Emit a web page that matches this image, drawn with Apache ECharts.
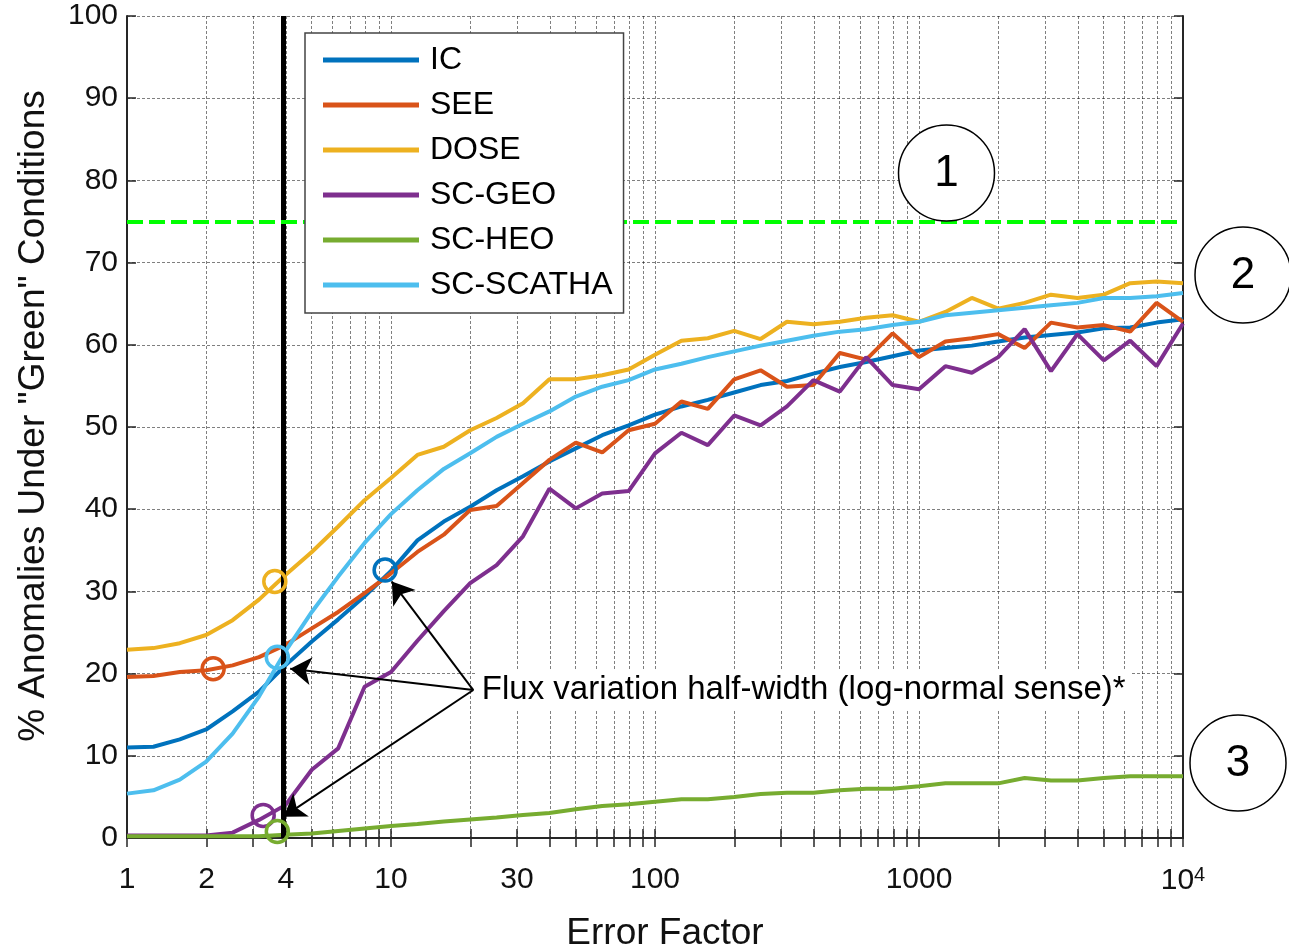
<!DOCTYPE html>
<html>
<head>
<meta charset="utf-8">
<title>Anomalies under green conditions vs error factor</title>
<script src="https://cdn.jsdelivr.net/npm/echarts@6/dist/echarts.min.js"></script>
<style>
  html, body { margin: 0; padding: 0; background: #fff; }
  #Echarts { width: 1289px; height: 947px; }
</style>
</head>
<body>
<div id="Echarts"></div>
<script>
// error factor samples, 10 per decade
var errorFactor = [1, 1.259, 1.585, 1.995, 2.512, 3.162, 3.981, 5.012, 6.31, 7.943,
  10, 12.59, 15.85, 19.95, 25.12, 31.62, 39.81, 50.12, 63.1, 79.43,
  100, 125.9, 158.5, 199.5, 251.2, 316.2, 398.1, 501.2, 631, 794.3,
  1000, 1259, 1585, 1995, 2512, 3162, 3981, 5012, 6310, 7943, 10000];

var seriesNames = ['IC', 'SEE', 'DOSE', 'SC-GEO', 'SC-HEO', 'SC-SCATHA'];
var seriesColors = ['#0072BD', '#D95319', '#EDB120', '#7E2F8E', '#77AC30', '#4DBEEE'];

var icValues = [11.0, 11.1, 12.0, 13.2, 15.4, 17.8, 21.0, 23.9, 26.6, 29.4,
  32.5, 36.2, 38.5, 40.3, 42.3, 44.0, 45.8, 47.4, 49.0, 50.2,
  51.5, 52.5, 53.3, 54.2, 55.1, 55.6, 56.5, 57.3, 57.9, 58.6,
  59.3, 59.6, 59.9, 60.4, 60.9, 61.2, 61.5, 62.0, 62.1, 62.7, 63.1];
var seeValues = [19.6, 19.7, 20.2, 20.4, 21.0, 22.0, 23.5, 25.5, 27.5, 29.8,
  32.2, 34.8, 36.9, 39.9, 40.4, 43.2, 46.0, 48.1, 46.9, 49.6,
  50.4, 53.1, 52.2, 55.8, 56.9, 54.9, 55.1, 59.0, 58.2, 61.4,
  58.5, 60.4, 60.8, 61.3, 59.6, 62.7, 62.1, 62.4, 61.6, 65.1, 62.8];
var doseValues = [22.9, 23.1, 23.7, 24.7, 26.5, 29.0, 32.0, 34.8, 37.9, 41.1,
  43.8, 46.6, 47.6, 49.6, 51.1, 52.9, 55.8, 55.8, 56.3, 57.0,
  58.8, 60.5, 60.8, 61.7, 60.7, 62.8, 62.5, 62.8, 63.3, 63.6,
  62.8, 64.0, 65.7, 64.4, 65.1, 66.1, 65.7, 66.1, 67.5, 67.7, 67.5];
var geoValues = [0.3, 0.3, 0.3, 0.3, 0.65, 2.2, 4.0, 8.3, 10.9, 18.4,
  20.2, 24.0, 27.6, 31.0, 33.2, 36.7, 42.5, 40.1, 41.9, 42.2,
  46.8, 49.3, 47.8, 51.4, 50.2, 52.5, 55.7, 54.3, 58.5, 55.1,
  54.6, 57.4, 56.6, 58.5, 61.9, 56.8, 61.3, 58.1, 60.5, 57.4, 62.6];
var heoValues = [0.2, 0.2, 0.2, 0.2, 0.2, 0.2, 0.4, 0.55, 0.85, 1.15,
  1.45, 1.7, 2.0, 2.25, 2.5, 2.8, 3.05, 3.5, 3.9, 4.1,
  4.4, 4.7, 4.7, 5.0, 5.35, 5.5, 5.5, 5.8, 6.0, 6.0,
  6.3, 6.65, 6.65, 6.65, 7.3, 7.0, 7.0, 7.3, 7.5, 7.5, 7.5];
var scathaValues = [5.4, 5.8, 7.1, 9.3, 12.7, 17.2, 22.7, 27.5, 31.8, 35.9,
  39.4, 42.3, 44.9, 46.8, 48.8, 50.4, 51.9, 53.7, 54.9, 55.7,
  57.0, 57.7, 58.5, 59.2, 59.9, 60.5, 61.1, 61.6, 61.9, 62.4,
  62.8, 63.6, 63.9, 64.2, 64.5, 64.8, 65.1, 65.7, 65.7, 65.9, 66.3];

// flux variation half-width point of each series (circle markers)
var halfWidthX = [9.5, 2.12, 3.63, 3.28, 3.71, 3.71];
var halfWidthY = [32.6, 20.6, 31.2, 2.75, 0.8, 22.0];

var xLabelValues = [1, 2, 4, 10, 30, 100, 1000, 10000];
var xGridValues = [1, 2, 3, 4, 5, 6, 7, 8, 9,
  10, 20, 30, 40, 50, 60, 70, 80, 90,
  100, 200, 300, 400, 500, 600, 700, 800, 900,
  1000, 2000, 3000, 4000, 5000, 6000, 7000, 8000, 9000, 10000];

var greenLevel = 75;
var markedFactor = 3.9;
var noteText = 'Flux variation half-width (log-normal sense)*';
var noteFrom = [20.5, 18.0];
var noteTargets = [[10.07, 31.2], [4.15, 20.6], [3.92, 2.6]];

var FONT = 'Liberation Sans';
var INK = '#262626';
var TEXT = '#111';

var allValues = [icValues, seeValues, doseValues, geoValues, heoValues, scathaValues];

var myChart = echarts.init(document.getElementById('Echarts'));

var series = seriesNames.map(function (name, i) {
    return {
        name: name,
        type: 'line',
        symbol: 'none',
        showSymbol: false,
        z: 2,
        data: errorFactor.map(function (x, j) { return [x, allValues[i][j]]; }),
        lineStyle: { width: 4, color: seriesColors[i] },
        itemStyle: { color: seriesColors[i] },
        markPoint: {
            z: 8,
            silent: true,
            symbol: 'circle',
            symbolSize: 22,
            itemStyle: { color: 'rgba(0,0,0,0)', borderColor: seriesColors[i], borderWidth: 3.5 },
            label: { show: false },
            data: [{ coord: [halfWidthX[i], halfWidthY[i]] }]
        }
    };
});

// reference lines, arrows and the note
series.push({
    name: 'notes',
    type: 'line',
    data: [],
    markLine: {
        z: 6,
        silent: true,
        symbol: ['none', 'none'],
        label: { show: false },
        data: [
            { xAxis: markedFactor, lineStyle: { color: '#000', width: 5, type: 'solid' } },
            { yAxis: greenLevel, lineStyle: { color: '#00FF00', width: 4, type: [16, 6] } }
        ]
    },
    markPoint: {
        z: 7,
        silent: true,
        symbol: 'circle',
        symbolSize: 1,
        itemStyle: { color: 'rgba(0,0,0,0)' },
        label: {
            show: true, position: 'right', distance: 2,
            formatter: noteText,
            fontFamily: FONT, fontSize: 33, color: '#000',
            backgroundColor: '#fff', padding: [3, 6]
        },
        data: [{ coord: noteFrom }]
    }
});
series.push({
    name: 'arrows',
    type: 'line',
    data: [],
    markLine: {
        z: 7,
        silent: true,
        symbol: ['none', 'arrow'],
        symbolSize: 21,
        label: { show: false },
        lineStyle: { color: '#000', width: 2, type: 'solid' },
        data: noteTargets.map(function (t) {
            return [{ coord: noteFrom }, { coord: t }];
        })
    }
});

var option = {
    animation: false,
    backgroundColor: '#fff',
    textStyle: { fontFamily: FONT },
    grid: { left: 127, right: 106, top: 16, bottom: 109, outerBoundsMode: 'none', containLabel: false },
    legend: {
        data: seriesNames,
        orient: 'vertical',
        left: 305, top: 33,
        icon: 'rect',
        itemWidth: 96, itemHeight: 5, itemGap: 11,
        padding: [10, 11, 11, 18],
        backgroundColor: '#fff',
        borderColor: '#444', borderWidth: 1.5,
        selectedMode: false,
        z: 10,
        textStyle: { fontFamily: FONT, fontSize: 32, color: '#000', lineHeight: 27, padding: [7, 0, 0, 6] }
    },
    xAxis: [{
        type: 'log', logBase: 10, min: 1, max: 10000,
        name: 'Error Factor', nameLocation: 'middle', nameGap: 77,
        nameTextStyle: { fontFamily: FONT, fontSize: 37, color: TEXT, padding: [0, 0, 0, 20] },
        axisLine: { show: true, lineStyle: { color: INK, width: 2 } },
        axisTick: { inside: true, length: 9, customValues: xGridValues, lineStyle: { color: INK, width: 1.5 } },
        axisLabel: {
            customValues: xLabelValues,
            margin: 27, fontFamily: FONT, fontSize: 30, color: TEXT,
            formatter: function (v) {
                var n = Math.round(v);
                return n === 10000 ? '{b|10}{s|4}' : String(n);
            },
            rich: {
                b: { fontFamily: FONT, fontSize: 30, color: TEXT },
                s: { fontFamily: FONT, fontSize: 20, color: TEXT, verticalAlign: 'top', padding: [0, 0, 12, 0] }
            }
        },
        splitLine: { show: true, lineStyle: { color: 'rgba(0,0,0,0.5)', width: 1, type: [3, 2] } }
    }, {
        type: 'log', logBase: 10, min: 1, max: 10000, position: 'top',
        axisLine: { show: true, lineStyle: { color: INK, width: 2 } },
        axisTick: { inside: true, length: 9, customValues: xGridValues, lineStyle: { color: INK, width: 1.5 } },
        axisLabel: { show: false },
        splitLine: { show: false }
    }],
    yAxis: [{
        type: 'value', min: 0, max: 100, interval: 10,
        name: '% Anomalies Under "Green" Conditions', nameLocation: 'middle', nameGap: 75,
        nameTextStyle: { fontFamily: FONT, fontSize: 37, color: TEXT, padding: [0, 0, 0, 22] },
        axisLine: { show: true, lineStyle: { color: INK, width: 2 } },
        axisTick: { show: true, inside: true, length: 9, lineStyle: { color: INK, width: 1.5 } },
        axisLabel: { margin: 9, fontFamily: FONT, fontSize: 30, color: TEXT },
        splitLine: { show: true, lineStyle: { color: 'rgba(0,0,0,0.5)', width: 1, type: [3, 2] } }
    }, {
        type: 'value', min: 0, max: 100, interval: 10, position: 'right',
        axisLine: { show: true, lineStyle: { color: INK, width: 2 } },
        axisTick: { show: true, inside: true, length: 9, lineStyle: { color: INK, width: 1.5 } },
        axisLabel: { show: false },
        splitLine: { show: false }
    }],
    graphic: [
        { type: 'circle', z: 100, shape: { cx: 946.5, cy: 173, r: 48 }, style: { fill: '#fff', stroke: '#000', lineWidth: 1.5 } },
        { type: 'text', z: 101, style: { x: 946.5, y: 174, text: '1', font: '44px "Liberation Sans"', fill: '#000', align: 'center', verticalAlign: 'middle' } },
        { type: 'circle', z: 100, shape: { cx: 1243, cy: 275, r: 48 }, style: { fill: '#fff', stroke: '#000', lineWidth: 1.5 } },
        { type: 'text', z: 101, style: { x: 1243, y: 276, text: '2', font: '44px "Liberation Sans"', fill: '#000', align: 'center', verticalAlign: 'middle' } },
        { type: 'circle', z: 100, shape: { cx: 1238, cy: 763, r: 48 }, style: { fill: '#fff', stroke: '#000', lineWidth: 1.5 } },
        { type: 'text', z: 101, style: { x: 1238, y: 764, text: '3', font: '44px "Liberation Sans"', fill: '#000', align: 'center', verticalAlign: 'middle' } }
    ],
    series: series
};

myChart.setOption(option);
</script>
</body>
</html>
